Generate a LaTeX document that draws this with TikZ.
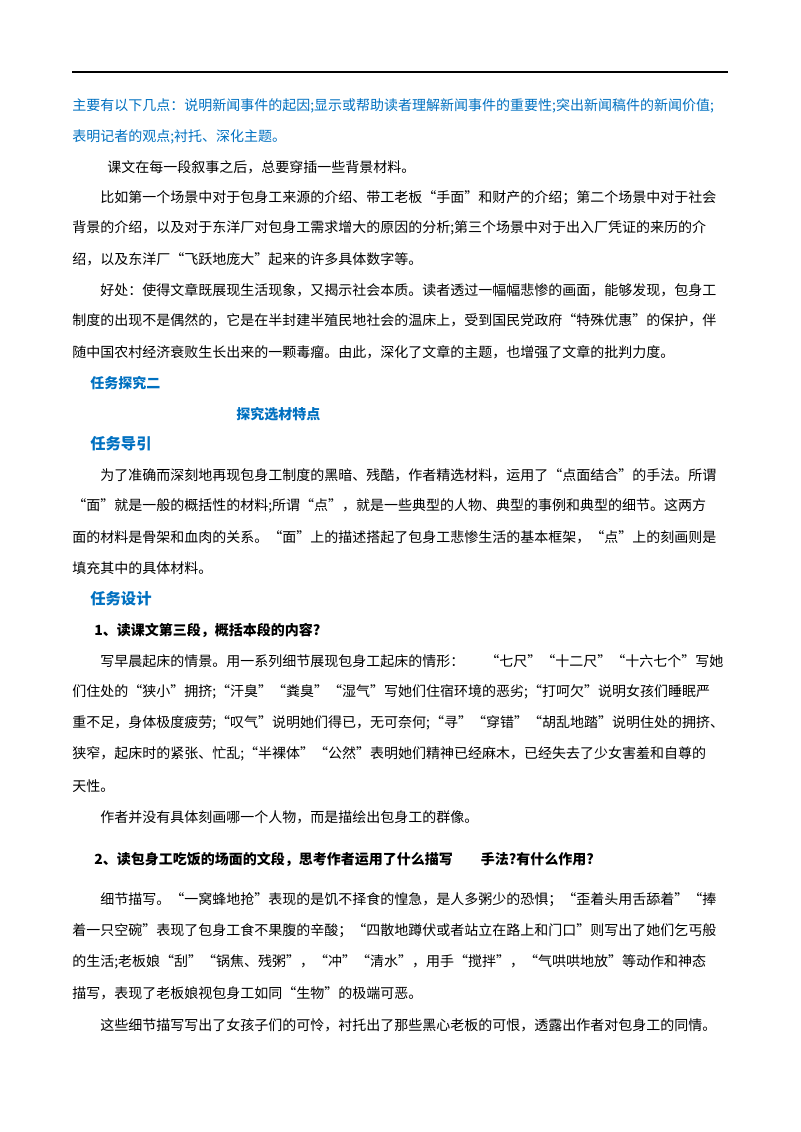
\documentclass[tikz,border=0pt]{standalone}
\usepackage{fontspec}
\setmainfont{Noto Sans CJK SC}
\XeTeXlinebreaklocale "zh"
\XeTeXlinebreakskip=0pt plus 3pt
\definecolor{myblue}{RGB}{0,112,192}
\tikzset{txt/.style={anchor=west,inner sep=0pt,font=\fontsize{10.5pt}{12pt}\selectfont},
 head/.style={txt,text=myblue,font=\fontsize{10.5pt}{12pt}\selectfont\bfseries},
 sub/.style={txt,font=\fontsize{10.5pt}{12pt}\selectfont\bfseries}}
\newcommand\myfull[4][]{\node[txt,#1] (#2) at (#3) {\hbox to \dimexpr(728pt-#3 pt)*3/4\relax{#4}};}
\begin{document}
\begin{tikzpicture}[x=0.75pt,y=-0.75pt]
\useasboundingbox (0,0) rectangle (800,1132);
\draw[line width=1pt] (72,72) coordinate (r1) -- (728,72) coordinate (r2);
\node[txt,text=myblue] (l1) at (72,106) {\hbox to 492pt{主要有以下几点：说明新闻事件的起因;显示或帮助读者理解新闻事件的重要性;突出新闻稿件的新闻价值;}};
\node[txt,text=myblue] (l2) at (72,137) {表明记者的观点;衬托、深化主题。};
\node[txt] (l3) at (107,167) {课文在每一段叙事之后，总要穿插一些背景材料。};
\node[txt] (l4) at (100,198) {\hbox to 471pt{比如第一个场景中对于包身工来源的介绍、带工老板“手面”和财产的介绍；第二个场景中对于社会}};
\node[txt] (l5) at (72,228) {\hbox to 492pt{背景的介绍，以及对于东洋厂对包身工需求增大的原因的分析;第三个场景中对于出入厂凭证的来历的介}};
\node[txt] (l6) at (72,259) {绍，以及东洋厂“飞跃地庞大”起来的许多具体数字等。};
\node[txt] (l7) at (100,290) {\hbox to 471pt{好处：使得文章既展现生活现象，又揭示社会本质。读者透过一幅幅悲惨的画面，能够发现，包身工}};
\node[txt] (l8) at (72,320) {\hbox to 492pt{制度的出现不是偶然的，它是在半封建半殖民地社会的温床上，受到国民党政府“特殊优惠”的保护，伴}};
\node[txt] (l9) at (72,352) {随中国农村经济衰败生长出来的一颗毒瘤。由此，深化了文章的主题，也增强了文章的批判力度。};
\node[head] (h1) at (90,383) {任务探究二};
\node[head] (h2) at (236,414) {探究选材特点};
\node[head,font=\fontsize{11.5pt}{13pt}\selectfont\bfseries] (h3) at (90,444) {任务导引};
\node[txt] (m1) at (100,475) {\hbox to 471pt{为了准确而深刻地再现包身工制度的黑暗、残酷，作者精选材料，运用了“点面结合”的手法。所谓}};
\node[txt] (m2) at (72,506) {\hbox to 492pt{“面”就是一般的概括性的材料;所谓“点”，就是一些典型的人物、典型的事例和典型的细节。这两方}};
\node[txt] (m3) at (72,537) {\hbox to 492pt{面的材料是骨架和血肉的关系。“面”上的描述搭起了包身工悲惨生活的基本框架，“点”上的刻画则是}};
\node[txt] (m4) at (72,568) {填充其中的具体材料。};
\node[head,font=\fontsize{11.5pt}{13pt}\selectfont\bfseries] (h4) at (90,599) {任务设计};
\node[sub] (q1) at (94,630) {1、读课文第三段，概括本段的内容?};
\node[txt] (a1) at (100,661) {\hbox to 471pt{写早晨起床的情景。用一系列细节展现包身工起床的情形：\hspace{1.5em}“七尺”“十二尺”“十六七个”写她}};
\node[txt] (a2) at (72,692) {\hbox to 492pt{们住处的“狭小”拥挤;“汗臭”“粪臭”“湿气”写她们住宿环境的恶劣;“打呵欠”说明女孩们睡眠严}};
\node[txt] (a3) at (72,723) {\hbox to 492pt{重不足，身体极度疲劳;“叹气”说明她们得已，无可奈何;“寻”“穿错”“胡乱地踏”说明住处的拥挤、}};
\node[txt] (a4) at (72,754) {\hbox to 492pt{狭窄，起床时的紧张、忙乱;“半裸体”“公然”表明她们精神已经麻木，已经失去了少女害羞和自尊的}};
\node[txt] (a5) at (72,786) {天性。};
\node[txt] (a6) at (100,817) {作者并没有具体刻画哪一个人物，而是描绘出包身工的群像。};
\node[sub] (q2) at (94,859) {2、读包身工吃饭的场面的文段，思考作者运用了什么描写\hspace{2em}手法?有什么作用?};
\node[txt] (b1) at (100,900) {\hbox to 471pt{细节描写。“一窝蜂地抢”表现的是饥不择食的惶急，是人多粥少的恐惧；“歪着头用舌舔着”“捧}};
\node[txt] (b2) at (72,931) {\hbox to 492pt{着一只空碗”表现了包身工食不果腹的辛酸；“四散地蹲伏或者站立在路上和门口”则写出了她们乞丐般}};
\node[txt] (b3) at (72,962) {\hbox to 492pt{的生活;老板娘“刮”“锅焦、残粥”，“冲”“清水”，用手“搅拌”，“气哄哄地放”等动作和神态}};
\node[txt] (b4) at (72,993) {描写，表现了老板娘视包身工如同“生物”的极端可恶。};
\node[txt] (b5) at (100,1025) {这些细节描写写出了女孩子们的可怜，衬托出了那些黑心老板的可恨，透露出作者对包身工的同情。};
\end{tikzpicture}
\end{document}
